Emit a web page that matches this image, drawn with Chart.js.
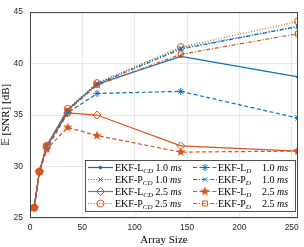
<!DOCTYPE html>
<html>
<head>
<meta charset="utf-8">
<script src="https://cdn.jsdelivr.net/npm/chart.js@4"></script>
<style>
  html, body { margin: 0; padding: 0; background: #fff; }
  #wrap { width: 304px; height: 247px; position: relative; }
</style>
</head>
<body>
<div id="wrap"><canvas id="snrChart"></canvas></div>
<script>
/* ===== DATA ===== */
const arraySizes = [4, 9, 16, 36, 64, 144, 256];
const xTicks = [0, 50, 100, 150, 200, 250];
const yTicks = [25, 30, 35, 40, 45];

const lCD10 = [26, 29.5, 32, 35.5, 38.0, 40.7, 38.7];
const pCD10 = [26, 29.5, 32, 35.5, 38.1, 41.5, 43.6];
const lCD25 = [26, 29.5, 32, 35.2, 35.0, 32.0, 31.5];
const pCD25 = [26, 29.5, 32, 35.6, 38.1, 41.6, 44.1];
const lD10 = [26, 29.5, 31.7, 35.2, 37.1, 37.3, 34.7];
const pD10 = [26, 29.5, 32, 35.5, 38.0, 41.4, 43.6];
const lD25 = [26, 29.5, 31.7, 33.8, 33.0, 31.4, 31.5];
const pD25 = [26, 29.5, 32, 35.4, 37.9, 40.9, 42.9];

const BLUE = "#0072BD";
const ORANGE = "#D95319";

// filled pentagram marker (MATLAB 'p')
function pentagram(color, r) {
  const c = document.createElement("canvas");
  const s = Math.ceil(r * 2 + 2);
  c.width = s; c.height = s;
  const g = c.getContext("2d");
  g.translate(s / 2, s / 2);
  g.beginPath();
  for (let i = 0; i < 10; i++) {
    const rad = i % 2 === 0 ? r : r * 0.42;
    const a = -Math.PI / 2 + (i * Math.PI) / 5;
    g.lineTo(rad * Math.cos(a), rad * Math.sin(a));
  }
  g.closePath();
  g.fillStyle = color;
  g.fill();
  return c;
}

const DASH = [4, 2.5];
const DOT = [1, 1.8];
const DASHDOT = [4, 1.8, 1, 1.8];

function series(data, color, dash, style, radius, fill, lbl) {
  return {
    data: arraySizes.map((x, i) => ({ x, y: data[i] })),
    borderColor: color,
    backgroundColor: fill ? color : "rgba(0,0,0,0)",
    borderWidth: 1.2,
    borderDash: dash,
    pointStyle: style,
    pointRadius: radius,
    pointBorderWidth: 1,
    pointBackgroundColor: fill ? color : "rgba(0,0,0,0)",
    pointBorderColor: color,
    tension: 0,
    lbl,
  };
}

const datasets = [
  series(lCD10, BLUE, [], "circle", 1.3, true, ["L", "CD", "1.0"]),
  series(pCD10, BLUE, DOT, "crossRot", 3, false, ["P", "CD", "1.0"]),
  series(lCD25, ORANGE, [], "rectRot", 4, false, ["L", "CD", "2.5"]),
  series(pCD25, ORANGE, DOT, "circle", 3.5, false, ["P", "CD", "2.5"]),
  series(lD10, BLUE, DASH, "star", 3.5, false, ["L", "D", "1.0"]),
  series(pD10, BLUE, DASHDOT, "crossRot", 3, false, ["P", "D", "1.0"]),
  series(lD25, ORANGE, DASH, pentagram(ORANGE, 5), 5, true, ["L", "D", "2.5"]),
  series(pD25, ORANGE, DASHDOT, "rect", 3.5, false, ["P", "D", "2.5"]),
];
// later series drawn on top, like MATLAB
datasets.forEach((d, i) => { d.order = -i; });

/* ===== BOX + LEGEND (MATLAB style) ===== */
const boxLegend = {
  id: "boxLegend",
  afterDraw(chart) {
    const ctx = chart.ctx;
    const a = chart.chartArea;
    ctx.save();
    ctx.strokeStyle = "#404040";
    ctx.lineWidth = 1;
    ctx.strokeRect(a.left + 0.5, a.top + 0.5, a.right - a.left - 1, a.bottom - a.top - 1);

    // legend box
    const lx = 85, ly = 160, lw = 210, lh = 51;
    ctx.fillStyle = "#fff";
    ctx.fillRect(lx, ly, lw, lh);
    ctx.strokeStyle = "#262626";
    ctx.lineWidth = 0.8;
    ctx.strokeRect(lx + 0.5, ly + 0.5, lw, lh);

    const rows = [167, 179, 191, 203];
    const cols = [
      { x0: 88, x1: 113, tx: 115 },
      { x0: 193, x1: 217, tx: 218, vx: 262 },
    ];
    chart.data.datasets.forEach((ds, i) => {
      const col = cols[Math.floor(i / 4)];
      const y = rows[i % 4] + 0.5;
      ctx.save();
      ctx.strokeStyle = ds.borderColor;
      ctx.lineWidth = ds.borderWidth;
      ctx.setLineDash(ds.borderDash);
      ctx.beginPath();
      ctx.moveTo(col.x0, y);
      ctx.lineTo(col.x1, y);
      ctx.stroke();
      ctx.setLineDash([]);
      ctx.fillStyle = ds.pointBackgroundColor;
      ctx.strokeStyle = ds.pointBorderColor;
      ctx.lineWidth = ds.pointBorderWidth;
      Chart.helpers.drawPoint(ctx, {
        pointStyle: ds.pointStyle, radius: ds.pointRadius, rotation: 0, borderWidth: 1,
      }, (col.x0 + col.x1) / 2, y);
      ctx.restore();

      // label text with subscript
      const [kind, sub, val] = ds.lbl;
      ctx.fillStyle = "#000";
      ctx.textBaseline = "alphabetic";
      let x = col.tx;
      const base = y + 3.5;
      ctx.font = "10px 'Liberation Serif'";
      ctx.fillText("EKF-" + kind, x, base);
      x += ctx.measureText("EKF-" + kind).width;
      ctx.font = "italic 7px 'Liberation Serif'";
      ctx.fillText(sub, x, base + 2);
      x += ctx.measureText(sub).width + 2.5;
      if (col.vx) x = col.vx;
      ctx.font = "10px 'Liberation Serif'";
      ctx.fillText(val, x, base);
      x += ctx.measureText(val).width + 2.5;
      ctx.font = "italic 10px 'Liberation Serif'";
      ctx.fillText("ms", x, base);
    });
    ctx.restore();
  },
};

/* ===== CHART ===== */
new Chart(document.getElementById("snrChart"), {
  type: "line",
  data: { datasets },
  options: {
    responsive: true,
    maintainAspectRatio: false,
    animation: false,
    layout: { padding: { top: 4, right: 6, left: 0, bottom: 0 } },
    plugins: { legend: { display: false }, tooltip: { enabled: false } },
    scales: {
      x: {
        type: "linear",
        min: 0,
        max: 256,
        afterBuildTicks: (s) => { s.ticks = xTicks.map((v) => ({ value: v })); },
        afterFit: (s) => { s.height = 29; },
        grid: { color: "#e8e8e8", drawTicks: false },
        border: { display: false },
        ticks: { color: "#262626", font: { family: "Liberation Sans", size: 8.5 }, padding: 5, maxRotation: 0 },
        title: {
          display: true,
          text: "Array Size",
          color: "#000",
          font: { family: "Liberation Serif", size: 11 },
          padding: { top: 0, bottom: 0 },
        },
      },
      y: {
        min: 25,
        max: 45,
        afterBuildTicks: (s) => { s.ticks = yTicks.map((v) => ({ value: v })); },
        afterFit: (s) => { s.width = 30; },
        grid: { color: "#e8e8e8", drawTicks: false },
        border: { display: false },
        ticks: { color: "#262626", font: { family: "Liberation Sans", size: 8.5 }, padding: 7 },
        title: {
          display: true,
          text: "𝔼 [SNR] [dB]",
          color: "#000",
          font: { family: "Liberation Serif", size: 11 },
          padding: { top: 0, bottom: 0 },
        },
      },
    },
  },
  plugins: [boxLegend],
});
</script>
</body>
</html>
